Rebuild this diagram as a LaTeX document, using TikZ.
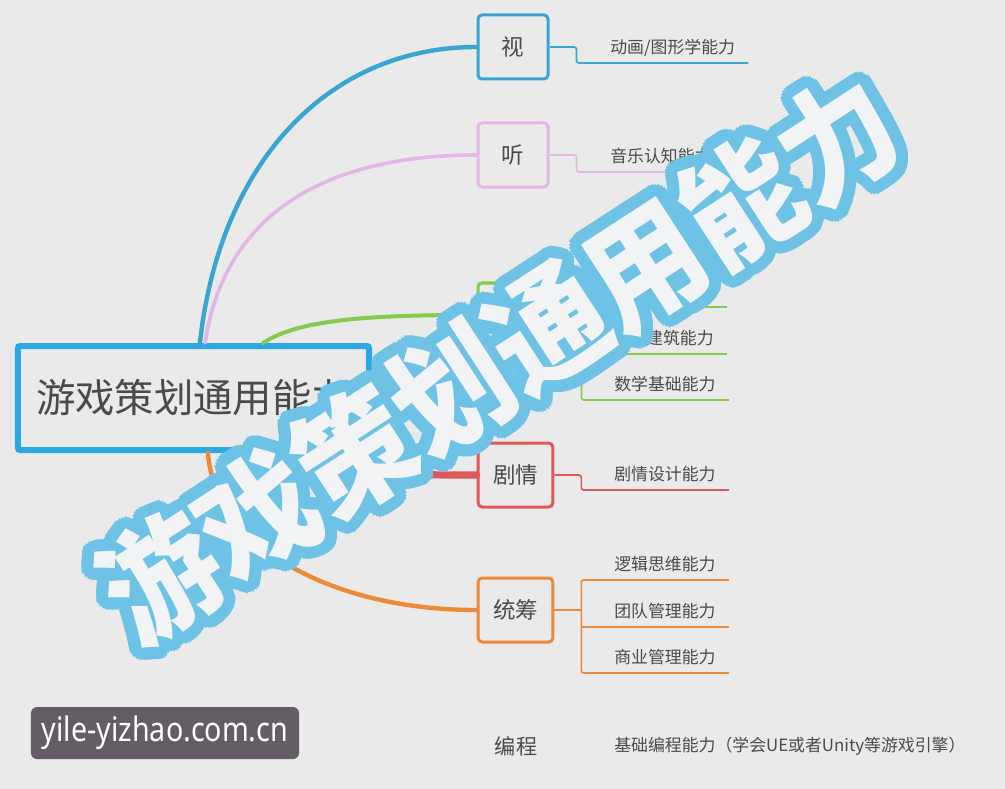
\documentclass[tikz,border=0pt]{standalone}
\usepackage{fontspec}
\setmainfont{Noto Sans CJK SC}
\newfontfamily\urlfont{Noto Sans}[FakeStretch=0.85]
\usepackage{tikz}
\usetikzlibrary{calc}
\definecolor{bgGrey}{HTML}{EAEAEB}
\definecolor{txtGrey}{HTML}{4A4A4A}
\definecolor{rootBlue}{HTML}{2BA8DF}
\definecolor{visBlue}{HTML}{38A6D0}
\definecolor{pinkC}{HTML}{E3B6E6}
\definecolor{greenC}{HTML}{86C94F}
\definecolor{redC}{HTML}{E0575C}
\definecolor{orangeC}{HTML}{EE8A35}
\definecolor{wmBlue}{HTML}{6DC2E5}
\definecolor{wmWhite}{HTML}{F2F3F5}
\definecolor{urlBg}{HTML}{655D66}
\def\wmText{游戏策划通用能力}
\newcommand{\wmSize}{\fontsize{80}{90}\selectfont\bfseries}

\begin{document}
\begin{tikzpicture}[
	x=0.25mm, y=-0.25mm,
	branch/.style={draw, rounded corners=1mm, line width=0.75mm, fill=bgGrey, minimum width=17.5mm, minimum height=16mm, inner xsep=3.7mm, font=\fontsize{16}{18}\selectfont, text=txtGrey},
	leaf/.style={anchor=south west, inner xsep=3.25mm, inner ysep=2.4mm, text depth=0pt, font=\fontsize{12}{14}\selectfont, text=txtGrey},
	twig/.style={line width=0.4mm, rounded corners=0.6mm},
	limb/.style={line cap=round},
	wmBack/.style={text=wmBlue, rotate=33, xscale=1.025, yscale=1.1, font=\wmSize, inner sep=0},
	wmFront/.style={text=wmWhite, rotate=33, xscale=1.025, yscale=1.1, font=\wmSize, inner sep=0}
	]
	
	\fill[bgGrey] (0,0) rectangle (1005,789);
	
	% Root
	\node[draw=rootBlue, line width=1.5mm, fill=bgGrey, rounded corners=0.5mm, minimum width=87.75mm, minimum height=26mm, font=\fontsize{28}{30}\selectfont, text=txtGrey] (root) at (193.5,398) {游戏策划通用能力};
	
	% Branches
	\node[branch, draw=visBlue] (vis) at (513,47) {视};
	\node[branch, draw=pinkC] (aud) at (513,155) {听};
	\node[branch, draw=greenC, minimum width=18.75mm] (spa) at (515.5,315) {};
	\node[branch, draw=redC] (plot) at (515.5,475) {剧情};
	\node[branch, draw=orangeC] (plan) at (515.5,610) {统筹};
	
	\draw[limb, visBlue, line width=1.1mm] ([xshift=1.6mm]root.north) .. controls (220,160) and (330,47) .. (vis.west);
	\draw[limb, pinkC, line width=0.9mm] ([xshift=2.9mm]root.north) .. controls (225,210) and (330,155) .. (aud.west);
	\draw[limb, greenC, line width=1mm] ([xshift=17.4mm]root.north) .. controls (300,318) and (380,315) .. (spa.west);
	\draw[limb, redC, line width=1.8mm] ([xshift=-9mm]root.south east) .. controls (350,475) and (400,475) .. (plot.west);
	\draw[limb, orangeC, line width=1.1mm] ([xshift=3.6mm]root.south) .. controls (215,545) and (330,610) .. (plan.west);
	
	% Vis
	\node[leaf] (vis1) at (597,63) {动画/图形学能力};
	\draw[twig, visBlue] (vis.east) -- ++(27,0) |- (vis1.south east);
	
	% Audio
	\node[leaf] (aud1) at (597,172) {音乐认知能力};
	\draw[twig, pinkC] (aud.east) -- ++(27,0) |- (aud1.south east);
	
	% Space
	\coordinate (spa1) at (727,307);
	\node[leaf, anchor=south east] (spa2) at (727,354) {建筑能力};
	\node[leaf] (spa3) at (601,400) {数学基础能力};
	\draw[twig, greenC] (spa.east) -- ++(27,0) coordinate (spaFork);
	\draw[twig, greenC] (spa1) -| (spaFork) |- (spa3.south east);
	\draw[twig, greenC] (spaFork |- spa2.south) -- (spa2.south east);
	
	% Plot
	\node[leaf] (plot1) at (601,490) {剧情设计能力};
	\draw[twig, redC] (plot.east) -- ++(27,0) |- (plot1.south east);
	
	% Plan
	\node[leaf] (plan1) at (601,580) {逻辑思维能力};
	\node[leaf] (plan2) at (601,627) {团队管理能力};
	\node[leaf] (plan3) at (601,673) {商业管理能力};
	\draw[twig, orangeC] (plan.east) -- ++(27,0) coordinate (planFork);
	\draw[twig, orangeC] (plan1.south east) -| (planFork) |- (plan3.south east);
	\draw[twig, orangeC] (planFork |- plan2.south) -- (plan2.south east);
	
	% Code
	\node[text=txtGrey, font=\fontsize{15}{17}\selectfont] (code) at (516,746) {编程};
	\node[anchor=west, inner sep=0, text=txtGrey, font=\fontsize{12}{14}\selectfont] (code1) at (614,746) {基础编程能力（学会UE或者Unity等游戏引擎）};
	
	% Watermark
	\coordinate (wmc) at (499,358);
	\foreach \a in {0,15,...,345}
		\node[wmBack] (wmb\a) at ($(wmc)+(\a:12)$) {\wmText};
	\foreach \a in {0,30,...,330}
		\node[wmBack] (wmi\a) at ($(wmc)+(\a:6)$) {\wmText};
	\node[wmFront] (wm) at (wmc) {\wmText};
	
	% Site tag
	\node[fill=urlBg, rounded corners=1.5mm, text=white, font=\urlfont\fontsize{24}{26}\selectfont, minimum width=67mm, minimum height=13mm, inner sep=0] (url) at (165,733) {yile-yizhao.com.cn};
\end{tikzpicture}
\end{document}
